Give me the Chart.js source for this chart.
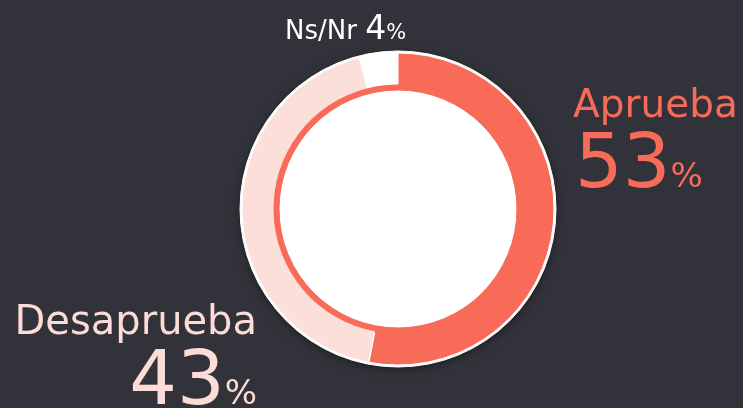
<!DOCTYPE html>
<html>
<head>
<meta charset="utf-8">
<script src="https://cdn.jsdelivr.net/npm/chart.js@4.4.1/dist/chart.umd.min.js"></script>
<style>
  html, body { margin: 0; padding: 0; background: #32323a; }
  #wrap { position: relative; width: 743px; height: 408px; }
</style>
</head>
<body>
<div id="wrap"><canvas id="chart"></canvas></div>
<script>
// ── DATA ──
const categories = ['Aprueba', 'Desaprueba', 'Ns/Nr'];
const values = [53, 43, 4];
const colors = ['#f86b58', '#fddfda', '#ffffff'];
const labelColors = ['#f86b58', '#fcdcd6', '#ffffff'];

const BG = '#32323a';
const FONT = '"DejaVu Sans", sans-serif';

// ── LABELS (text drawn on canvas, after the rings) ──
function drawParts(ctx, parts, x, y, align) {
  let total = 0;
  parts.forEach(p => {
    ctx.font = p.size + 'px ' + FONT;
    p.w = ctx.measureText(p.text).width;
    total += p.w;
  });
  let cx = align === 'right' ? x - total : x;
  parts.forEach(p => {
    ctx.font = p.size + 'px ' + FONT;
    ctx.fillStyle = p.color;
    ctx.fillText(p.text, cx, y);
    cx += p.w;
  });
}

const labelPlugin = {
  id: 'labels',
  beforeDatasetsDraw(chart) {
    // soft shadow under the ring
    const arc = chart.getDatasetMeta(0).data[0];
    if (!arc) return;
    const ctx = chart.ctx;
    ctx.save();
    ctx.shadowColor = 'rgba(0,0,0,0.55)';
    ctx.shadowBlur = 10;
    ctx.shadowOffsetY = 2;
    ctx.fillStyle = BG;
    ctx.beginPath();
    ctx.arc(arc.x, arc.y, arc.outerRadius - 1, 0, Math.PI * 2);
    ctx.fill();
    ctx.restore();
  },
  afterDatasetsDraw(chart) {
    // thin white cut between the two big segments
    const a = chart.getDatasetMeta(1).data[0];
    if (!a) return;
    const ctx = chart.ctx;
    ctx.save();
    ctx.strokeStyle = '#ffffff';
    ctx.lineWidth = 1.5;
    ctx.beginPath();
    ctx.moveTo(a.x + Math.cos(a.endAngle) * (a.innerRadius + 1), a.y + Math.sin(a.endAngle) * (a.innerRadius + 1));
    ctx.lineTo(a.x + Math.cos(a.endAngle) * a.outerRadius, a.y + Math.sin(a.endAngle) * a.outerRadius);
    ctx.stroke();
    ctx.restore();
  },
  afterDraw(chart) {
    const ctx = chart.ctx;
    ctx.save();
    ctx.textBaseline = 'alphabetic';

    // Ns/Nr
    drawParts(ctx, [
      { text: categories[2] + ' ', size: 26, color: labelColors[2] },
      { text: String(values[2]), size: 33, color: labelColors[2] },
      { text: '%', size: 21, color: labelColors[2] },
    ], 285, 39, 'left');

    // Aprueba
    drawParts(ctx, [{ text: categories[0], size: 39, color: labelColors[0] }], 573, 117, 'left');
    drawParts(ctx, [
      { text: String(values[0]), size: 75, color: labelColors[0] },
      { text: '%', size: 34, color: labelColors[0] },
    ], 575, 187, 'left');

    // Desaprueba
    drawParts(ctx, [{ text: categories[1], size: 40, color: labelColors[1] }], 257, 334, 'right');
    drawParts(ctx, [
      { text: String(values[1]), size: 75, color: labelColors[1] },
      { text: '%', size: 34, color: labelColors[1] },
    ], 257, 404, 'right');

    ctx.restore();
  }
};

// ── CHART ──
new Chart(document.getElementById('chart'), {
  type: 'doughnut',
  data: {
    labels: categories,
    datasets: [
      // thin white rim
      { data: [1], backgroundColor: ['#ffffff'], borderColor: ['#ffffff'], borderWidth: 1, weight: 2 },
      // main ring
      { data: values, backgroundColor: colors, borderColor: colors, borderWidth: 1, weight: 31 },
      // inner red line
      { data: [1], backgroundColor: [colors[0]], borderColor: [colors[0]], borderWidth: 1, weight: 6 },
      // white center
      { data: [1], backgroundColor: ['#ffffff'], borderColor: ['#ffffff'], borderWidth: 1, weight: 119 },
    ]
  },
  options: {
    responsive: true,
    maintainAspectRatio: false,
    animation: false,
    events: [],
    cutout: 0,
    radius: 158,
    layout: { padding: { left: 53, right: 0, top: 10, bottom: 0 } },
    plugins: {
      legend: { display: false },
      tooltip: { enabled: false }
    }
  },
  plugins: [labelPlugin]
});
</script>
</body>
</html>
